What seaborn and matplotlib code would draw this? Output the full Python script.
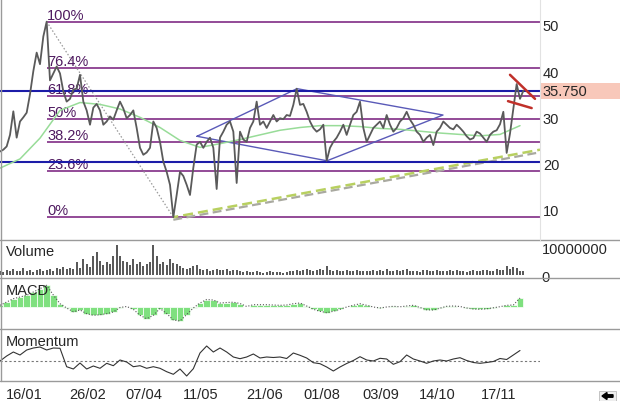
import numpy as np
import pandas as pd
import matplotlib
matplotlib.use("Agg")
import matplotlib.pyplot as plt
import matplotlib.patches as mpatches
import matplotlib.transforms as mtransforms
from matplotlib.lines import Line2D
import seaborn as sns

# ---------------- data ----------------
# closing prices, one value per bar
price = [22.6, 23.0, 23.7, 26.2, 31.3, 25.6, 29.1, 30.0, 31.0, 35.0,
         40.0, 44.0, 41.5, 47.5, 50.7, 38.0, 39.5, 41.0, 39.5, 35.6,
         33.4, 34.0, 36.0, 36.2, 39.2, 33.4, 31.5, 28.4, 32.1, 32.9,
         31.5, 28.4, 29.1, 30.2, 29.5, 31.5, 33.4, 31.9, 29.8, 30.5,
         31.5, 27.7, 23.4, 21.9, 22.4, 23.4, 29.1, 27.7, 24.7, 20.4,
         18.2, 15.4, 8.4, 13.2, 18.2, 17.3, 15.4, 13.2, 19.1, 24.1,
         24.7, 23.4, 24.7, 25.6, 23.4, 14.5, 25.6, 26.9, 28.4, 29.1,
         26.9, 15.8, 26.9, 25.2, 24.7, 27.7, 29.1, 33.4, 28.4, 29.1,
         27.7, 29.1, 30.5, 29.1, 29.8, 29.6, 30.5, 30.3, 32.7, 36.2,
         32.7, 32.9, 31.2, 29.1, 27.7, 26.9, 27.4, 28.4, 20.6, 23.4,
         24.7, 25.6, 26.9, 28.4, 26.2, 28.4, 30.5, 31.2, 33.4, 27.7,
         24.7, 26.2, 27.7, 28.4, 29.1, 27.7, 30.5, 28.4, 26.9, 27.7,
         29.1, 29.8, 31.2, 29.5, 28.4, 26.9, 26.2, 24.7, 25.6, 26.2,
         24.0, 26.9, 27.7, 29.1, 28.4, 27.7, 27.4, 28.4, 27.7, 26.9,
         25.9, 25.2, 25.5, 26.9, 26.5, 25.6, 24.7, 26.2, 26.9, 27.2,
         28.5, 31.2, 22.3, 26.5, 31.8, 37.2, 34.0, 35.75]

# moving average, one value every 6 bars
ma_step = 6
moving_avg = [19.0, 21.0, 25.5, 31.5, 33.2, 32.8, 31.8, 30.0, 27.8, 25.0,
              23.5, 24.3, 25.2, 26.2, 27.2, 27.8, 28.2, 28.2, 28.0, 27.6,
              27.4, 27.0, 26.6, 26.3, 26.0, 26.3, 28.2]

# volume in millions, one value per bar
volume_m = [1.5, 1.2, 1.8, 1.4, 2.0, 1.3, 1.6, 2.6, 1.5, 1.9, 1.2, 1.7, 2.2, 1.4, 1.8, 2.1, 1.6, 2.4,
            2.3, 2.7, 2.0, 2.5, 2.2,
            4.5, 2.6, 5.7, 4.0, 3.0, 6.9, 8.1, 5.1, 3.5, 4.5, 3.8, 6.9, 10.7, 6.9, 5.1, 4.5, 3.6,
            5.7, 3.8, 4.5, 3.2, 3.9, 4.6, 10.7, 6.9, 4.0, 4.5, 3.6, 5.7, 4.2, 3.9, 3.3, 2.4, 2.1,
            2.6, 3.3, 3.6,
            2.0, 1.8, 2.1, 1.6, 1.9, 2.0, 1.7, 1.8, 2.0, 1.6, 1.7, 1.9,
            1.4, 1.1, 1.3, 0.9, 1.2, 1.6, 1.0, 0.8, 1.1, 1.3, 0.9, 1.0, 1.2, 0.8, 1.1, 1.4,
            1.6, 1.8, 1.5, 1.9, 2.0, 1.7, 1.6, 1.8, 2.2, 1.7, 3.1,
            1.9, 1.5, 1.7, 1.3, 1.6, 1.8, 1.4, 1.5, 1.9, 1.6, 1.3, 1.5,
            1.6, 1.9, 1.4, 1.7, 1.5, 2.0, 1.6, 1.3, 1.8, 1.5, 1.7, 2.1, 1.6, 1.4,
            1.5, 1.2, 1.8, 1.7, 1.4, 1.6, 1.9, 1.5, 1.3, 1.6, 1.8, 1.4, 1.7, 1.5,
            1.4, 1.2, 1.6, 1.8, 1.5, 1.3, 1.7, 1.9, 1.4, 1.6, 2.0, 1.7, 1.8,
            3.3, 2.2, 2.7, 2.4, 1.6, 1.5]

# indicators, one value every 2 bars
ind_step = 2
macd = [1.7, 5, 8.3, 10, 11.7, 15, 18.3, 21.7, 12, 3.3,
        -1, -4.8, -3, -6.7, -8.3, -7.7, -6.7, -5, -0.5, 0.5,
        -2.3, -8.3, -11.7, -8.3, -1.5, -6.5, -13, -14, -7.5, -1,
        4, 7.5, 7, 4, 4.5, 4.8, 3.5, 0.5, 2.3, 2.3,
        2.3, 2.0, 1.7, 2.0, 3.3, 4.0, 1, -2.3, -4.3, -5.7,
        -4.3, -2.3, 0, 1.7, 3.3, 1.7, 0, -1, 0, 0.7,
        0.2, 1.0, 1.7, -0.5, -2.8, -3.0, -1.2, 0.7, 1, 0.5,
        -1, -2, -2.3, -1.8, -0.8, 0.3, 1.7, 2.0, 9]
momentum = [0, 5, 9, 6, 11, 13, 14, 11, 13, 12.7,
            -5.7, -8, -2, -8, -5, -7.3, -2.3, -4.7, 1, -1,
            -5.7, -4.7, -7.3, -5.7, -7.3, -10.7, -13.3, -8, -15, -7.7,
            8, 15, 9, 13, 9, 4, 2.3, 4, 7, 3,
            4, 3.5, 4, 2.5, 8, 5.7, 3, -1.7, -2.7, -6,
            -10, -6, -2.5, 0.5, 4.3, 1, 0, 2.7, 2, -3.3,
            -0.7, 6, 2, 0, -2.3, 0, 1, 0, 2, 3.3,
            0.5, -1.5, -2.3, -1.5, -0.5, 2.5, 1.5, 6, 10.5]

date_labels = ["16/01", "26/02", "07/04", "11/05", "21/06", "01/08", "03/09", "14/10", "17/11"]
date_bars = [7.2, 26.4, 43.2, 60.3, 79.5, 96.6, 114.3, 131.1, 149.7]

price_ticks = [10, 20, 30, 40, 50]
fib_ratios = [0.0, 0.236, 0.382, 0.5, 0.618, 0.764, 1.0]
fib_labels = ["0%", "23.6%", "38.2%", "50%", "61.8%", "76.4%", "100%"]
support_levels = [35.75, 20.4]

# drawn annotations (bar, price)
diamond = [(59.1, 25.9), (89.1, 36.2), (132.9, 30.5), (98.1, 20.6)]
trend_line = [(52, 8.4), (162, 23.0)]
red_upper = [(153.0, 39.2), (160.5, 34.0)]
red_lower = [(152.4, 33.5), (159.5, 32.0)]
volume_ticks = [0, 10000000]

# ---------------- styling ----------------
sns.set_style("white")
plt.rcParams["font.family"] = ["Liberation Sans", "DejaVu Sans"]
FS = 10.5
W, H = 620, 402
XMAX = 162

def fy(y):
    return 1 - y / H

fig = plt.figure(figsize=(W / 100, H / 100), dpi=100)
ax_main = fig.add_axes([0, fy(241), 540 / W, 241 / H])
ax_vol = fig.add_axes([0, fy(279), 540 / W, 38 / H])
ax_macd = fig.add_axes([0, fy(330), 540 / W, 51 / H])
ax_mom = fig.add_axes([0, fy(382), 540 / W, 52 / H])

for ax in (ax_main, ax_vol, ax_macd, ax_mom):
    ax.set_xlim(0, XMAX)
    for s in ax.spines.values():
        s.set_visible(False)
    ax.set_xticks([])
    ax.set_facecolor("white")
    ax.set_xlabel("")
    ax.set_ylabel("")

df = pd.DataFrame({"bar": np.arange(len(price)), "price": price, "volume": np.array(volume_m) * 1e6})
ma_df = pd.DataFrame({"bar": np.arange(len(moving_avg)) * ma_step, "ma": moving_avg})
ind_df = pd.DataFrame({"bar": np.arange(len(macd)) * ind_step, "macd": macd, "mom": momentum})

# ---------------- main price panel ----------------
ax = ax_main
ax.set_ylim(3.46, 55.6)
i_hi = int(np.argmax(price)); i_lo = int(np.argmin(price))
hi, lo = price[i_hi], price[i_lo]
for r, lab in zip(fib_ratios, fib_labels):
    lvl = lo + r * (hi - lo)
    ax.hlines(lvl, i_hi, XMAX, color="#8a3d8f", lw=1.3, zorder=2)
    ax.annotate(lab, xy=(i_hi, lvl), xytext=(0.5, 0), textcoords="offset points",
                ha="left", va="bottom", fontsize=FS, color="#4f1a60", zorder=3)
for lvl in support_levels:
    ax.axhline(lvl, color="#1c1ca8", lw=1.5, zorder=4)
# dotted swing line
ax.plot([i_hi, i_lo], [hi, lo], color="#9a9a9a", ls=(0, (1.2, 1.6)), lw=0.9, zorder=2)
# trend line (double dashed)
tx = [p[0] for p in trend_line]; tyv = [p[1] for p in trend_line]
off = mtransforms.offset_copy(ax.transData, fig=fig, y=-2.6, units="dots")
ax.plot(tx, tyv, color="#a9a9a0", lw=1.6, ls=(0, (4, 2)), transform=off, zorder=3)
ax.plot(tx, tyv, color="#b8d060", lw=1.8, ls=(2, (4, 2)), zorder=3)
# diamond
dx = [p[0] for p in diamond] + [diamond[0][0]]
dyv = [p[1] for p in diamond] + [diamond[0][1]]
ax.plot(dx, dyv, color="#5a5ab8", lw=1.0, zorder=3)
# moving average and price
sns.lineplot(data=ma_df, x="bar", y="ma", ax=ax, color="#98dc98", lw=1.1, zorder=4)
sns.lineplot(data=df, x="bar", y="price", ax=ax, color="#5a5a5a", lw=1.3, zorder=5)
# red wedge lines
for seg in (red_upper, red_lower):
    ax.plot([seg[0][0], seg[1][0]], [seg[0][1], seg[1][1]], color="#c0302a", lw=1.8, zorder=6)
ax.yaxis.tick_right()
ax.set_yticks(price_ticks)
ax.set_yticklabels([str(t) for t in price_ticks])
ax.tick_params(axis="y", length=0, pad=2, labelsize=FS)
ax.set_xlabel(""); ax.set_ylabel("")
# last price label with pink box
fig.add_artist(mpatches.Rectangle((540 / W, fy(100)), 80 / W, 16.5 / H, transform=fig.transFigure,
                                  facecolor="#f8c8ba", edgecolor="none", zorder=-1))
ax.annotate(f"{price[-1]:.3f}", xy=(1, price[-1]), xycoords=("axes fraction", "data"),
            xytext=(2, 0), textcoords="offset points", ha="left", va="center", fontsize=FS,
            annotation_clip=False)

# ---------------- volume ----------------
ax_vol.bar(df["bar"], df["volume"], width=0.55, color="#5a5a5a", linewidth=0)
ax_vol.set_ylim(-1.07e6, 12.5e6)
ax_vol.yaxis.tick_right()
ax_vol.set_yticks(volume_ticks)
ax_vol.set_yticklabels([str(v) for v in volume_ticks])
ax_vol.tick_params(axis="y", length=0, pad=1, labelsize=FS)

# ---------------- MACD ----------------
ax_macd.bar(ind_df["bar"], ind_df["macd"], width=ind_step, color="#7fe07f", edgecolor="white",
            linewidth=0.5, align="center")
sns.lineplot(data=ind_df, x="bar", y="macd", ax=ax_macd, color="#555555", lw=0.8, ls=":")
ax_macd.set_ylim(-22, 29)
ax_macd.set_yticks([])
ax_macd.set_xlabel(""); ax_macd.set_ylabel("")

# ---------------- Momentum ----------------
ax_mom.axhline(0, color="#777777", lw=0.8, ls=(0, (2, 2)))
sns.lineplot(data=ind_df, x="bar", y="mom", ax=ax_mom, color="#333333", lw=0.8)
ax_mom.set_ylim(-20, 32)
ax_mom.set_yticks([])
ax_mom.set_xticks(date_bars)
ax_mom.set_xticklabels(date_labels)
ax_mom.tick_params(axis="x", length=0, pad=4, labelsize=FS)
ax_mom.set_xlabel(""); ax_mom.set_ylabel("")
ax_vol.set_xlabel(""); ax_vol.set_ylabel("")

# panel titles
for lab, y in (("Volume", 252), ("MACD", 291), ("Momentum", 342)):
    fig.text(6 / W, fy(y), lab, ha="left", va="center", fontsize=FS)

# separators and frame
for y in (241, 279, 330, 382):
    fig.add_artist(Line2D([0, 1], [fy(y), fy(y)], transform=fig.transFigure, color="#9a9a9a", lw=1.0))
fig.add_artist(Line2D([1 / W, 1 / W], [fy(0), fy(382)], transform=fig.transFigure, color="#9a9a9a", lw=1.0))
fig.add_artist(Line2D([540 / W, 540 / W], [fy(0), fy(241)], transform=fig.transFigure, color="#e2e2e2", lw=0.8))

# small scroll arrow, bottom right
fig.add_artist(mpatches.Rectangle((599 / W, fy(402)), 17 / W, 10 / H, transform=fig.transFigure,
                                  facecolor="#eeeeee", edgecolor="#bbbbbb", lw=0.6))
fig.add_artist(mpatches.FancyArrow(613 / W, fy(397), -11 / W, 0, width=2.5 / H, head_width=7 / H,
                                   head_length=5 / W, length_includes_head=True,
                                   transform=fig.transFigure, color="black"))

fig.savefig("out.png", dpi=100)
